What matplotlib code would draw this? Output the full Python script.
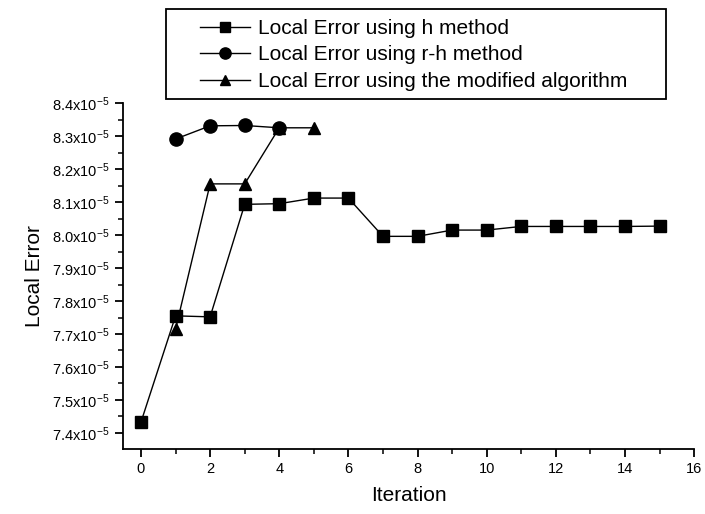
import matplotlib
matplotlib.use("Agg")
import matplotlib.pyplot as plt
from matplotlib.patches import Rectangle
from matplotlib.ticker import MultipleLocator, FuncFormatter

plt.rcParams['font.family'] = ['Liberation Sans', 'DejaVu Sans']
plt.rcParams['mathtext.default'] = 'regular'

# local error values, in units of 1e-5
h_iter = [0, 1, 2, 3, 4, 5, 6, 7, 8, 9, 10, 11, 12, 13, 14, 15]
h_err = [7.433, 7.755, 7.752, 8.093, 8.095, 8.112, 8.112, 7.996, 7.996,
         8.015, 8.015, 8.026, 8.026, 8.026, 8.026, 8.027]

rh_iter = [1, 2, 3, 4]
rh_err = [8.291, 8.331, 8.332, 8.325]

mod_iter = [1, 2, 3, 4, 5]
mod_err = [7.715, 8.155, 8.155, 8.325, 8.325]

labels = ['Local Error using h method',
          'Local Error using r-h method',
          'Local Error using the modified algorithm']

fig = plt.figure(figsize=(7.05, 5.14), dpi=100)
ax = fig.add_axes([0.1745, 0.1265, 0.81, 0.673])

kw = dict(color='black', lw=1, markersize=8.5, clip_on=False)
l1, = ax.plot(h_iter, h_err, marker='s', **kw)
l2, = ax.plot(rh_iter, rh_err, marker='o', markersize=9.5, color='black', lw=1, clip_on=False)
l3, = ax.plot(mod_iter, mod_err, marker='^', **kw)

ax.set_xlim(-0.52, 16)
ax.set_ylim(7.3515, 8.4)
ax.xaxis.set_major_locator(MultipleLocator(2))
ax.xaxis.set_minor_locator(MultipleLocator(1))
ax.yaxis.set_major_locator(MultipleLocator(0.1))
ax.yaxis.set_minor_locator(MultipleLocator(0.05))
ax.yaxis.set_major_formatter(FuncFormatter(lambda v, p: f'{v:.1f}x10$^{{-5}}$'))

for s in ['top', 'right']:
    ax.spines[s].set_visible(False)
for s in ['left', 'bottom']:
    ax.spines[s].set_linewidth(1.3)
ax.tick_params(which='major', direction='out', length=6, width=1.3, labelsize=10.5)
ax.tick_params(which='minor', direction='out', length=3.5, width=1.1)

ax.set_xlabel('Iteration', fontsize=15, labelpad=7)
ax.set_ylabel('Local Error', fontsize=15, labelpad=6)

# legend box drawn separately so the inner padding matches the original
fig.add_artist(Rectangle((166 / 705, 1 - 99 / 514), 500 / 705, 90 / 514,
                         transform=fig.transFigure, fill=False,
                         lw=1.3, ec='black'))
fig.legend([l1, l2, l3], labels, loc='upper left',
           bbox_to_anchor=(200 / 705, 1 - 19 / 514), fontsize=15, frameon=False,
           handlelength=2.4, markerscale=0.85, labelspacing=0.36,
           borderpad=0, borderaxespad=0, handletextpad=0.4)

fig.savefig('out.png', dpi=100)
